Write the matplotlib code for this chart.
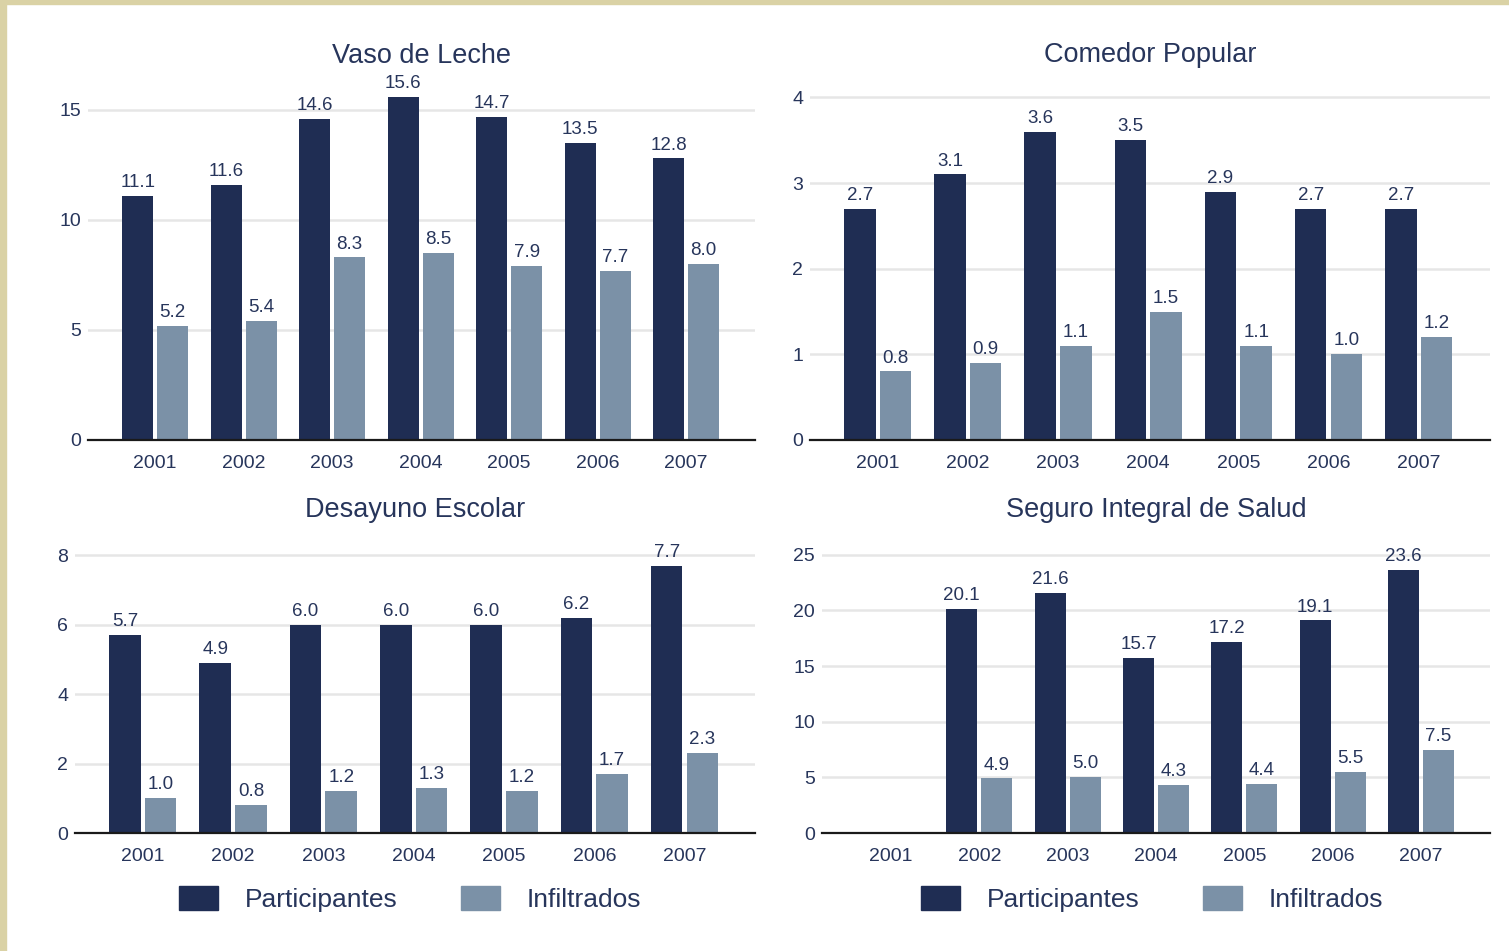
import numpy as np
import matplotlib

matplotlib.use("Agg")

import matplotlib.pyplot as plt
from matplotlib.patches import Rectangle, Patch

years = ["2001", "2002", "2003", "2004", "2005", "2006", "2007"]
series_names = ["Participantes", "Infiltrados"]

titles = ["Vaso de Leche", "Comedor Popular", "Desayuno Escolar", "Seguro Integral de Salud"]

vaso_part = [11.1, 11.6, 14.6, 15.6, 14.7, 13.5, 12.8]
vaso_infl = [5.2, 5.4, 8.3, 8.5, 7.9, 7.7, 8.0]

comedor_part = [2.7, 3.1, 3.6, 3.5, 2.9, 2.7, 2.7]
comedor_infl = [0.8, 0.9, 1.1, 1.5, 1.1, 1.0, 1.2]

desayuno_part = [5.7, 4.9, 6.0, 6.0, 6.0, 6.2, 7.7]
desayuno_infl = [1.0, 0.8, 1.2, 1.3, 1.2, 1.7, 2.3]

sis_part = [np.nan, 20.1, 21.6, 15.7, 17.2, 19.1, 23.6]
sis_infl = [np.nan, 4.9, 5.0, 4.3, 4.4, 5.5, 7.5]

y_ticks = [[0, 5, 10, 15], [0, 1, 2, 3, 4], [0, 2, 4, 6, 8], [0, 5, 10, 15, 20, 25]]
y_tops = [16.5, 4.25, 8.5, 26.5]

DARK = "#1f2d53"
LIGHT = "#7b91a7"
TEXT = "#27355b"
GRID = "#e6e6e6"
BORDER = "#dad2a5"

plt.rcParams["font.family"] = ["Liberation Sans", "DejaVu Sans"]

fig = plt.figure(figsize=(15.09, 9.51), dpi=100)
fig.patch.set_facecolor("white")

W, H = 1509, 951


def px_axes(x0, x1, y_top, y_zero):
    return fig.add_axes([x0 / W, 1 - y_zero / H, (x1 - x0) / W, (y_zero - y_top) / H])


axes = [
    px_axes(88, 755, 77, 440),
    px_axes(810, 1490, 76, 440),
    px_axes(75, 755, 538, 833),
    px_axes(822, 1490, 538, 833),
]
xlims = [(-0.76, 6.78), (-0.75, 6.79), (-0.75, 6.78), (-0.78, 6.78)]
title_pads = [10, 10, 15, 15]
data = [
    (vaso_part, vaso_infl),
    (comedor_part, comedor_infl),
    (desayuno_part, desayuno_infl),
    (sis_part, sis_infl),
]

x = np.arange(len(years))
w = 0.35
off = 0.198

for i, ax in enumerate(axes):
    part, infl = data[i]
    ax.set_xlim(*xlims[i])
    ax.set_ylim(0, y_tops[i])
    ax.set_yticks(y_ticks[i])
    ax.set_xticks(x)
    ax.set_xticklabels(years)
    ax.grid(axis="y", color=GRID, linewidth=1.8, zorder=0)
    ax.set_axisbelow(True)
    for s in ["top", "right", "left"]:
        ax.spines[s].set_visible(False)
    ax.spines["bottom"].set_color("#1a1a1a")
    ax.spines["bottom"].set_linewidth(1.6)
    ax.tick_params(axis="both", length=0, labelsize=14, colors=TEXT)
    ax.tick_params(axis="x", pad=10.5)
    ax.tick_params(axis="y", pad=5)

    b1 = ax.bar(x - off, part, w, color=DARK, zorder=2)
    b2 = ax.bar(x + off, infl, w, color=LIGHT, zorder=2)
    for bars, vals in ((b1, part), (b2, infl)):
        labels = ["" if np.isnan(v) else f"{v:.1f}" for v in vals]
        ax.bar_label(bars, labels=labels, padding=3.5, fontsize=13.5, color=TEXT)

    ax.set_title(titles[i], fontsize=19.5, color=TEXT, pad=title_pads[i])

handles = [Patch(color=DARK), Patch(color=LIGHT)]
for cx in (410 / W, 1152 / W):
    fig.legend(
        handles,
        series_names,
        loc="center",
        bbox_to_anchor=(cx, 1 - 899 / H),
        ncol=2,
        frameon=False,
        fontsize=19,
        labelcolor=TEXT,
        handlelength=1.5,
        handleheight=1.0,
        handletextpad=1.0,
        columnspacing=2.4,
    )

# frame strips on the left and top edges
fig.patches.append(Rectangle((0, 0), 6 / W, 1, transform=fig.transFigure,
                             color=BORDER, zorder=10))
fig.patches.append(Rectangle((0, 1 - 4 / H), 1, 4 / H, transform=fig.transFigure,
                             color=BORDER, zorder=10))

fig.savefig("out.png", dpi=100)
